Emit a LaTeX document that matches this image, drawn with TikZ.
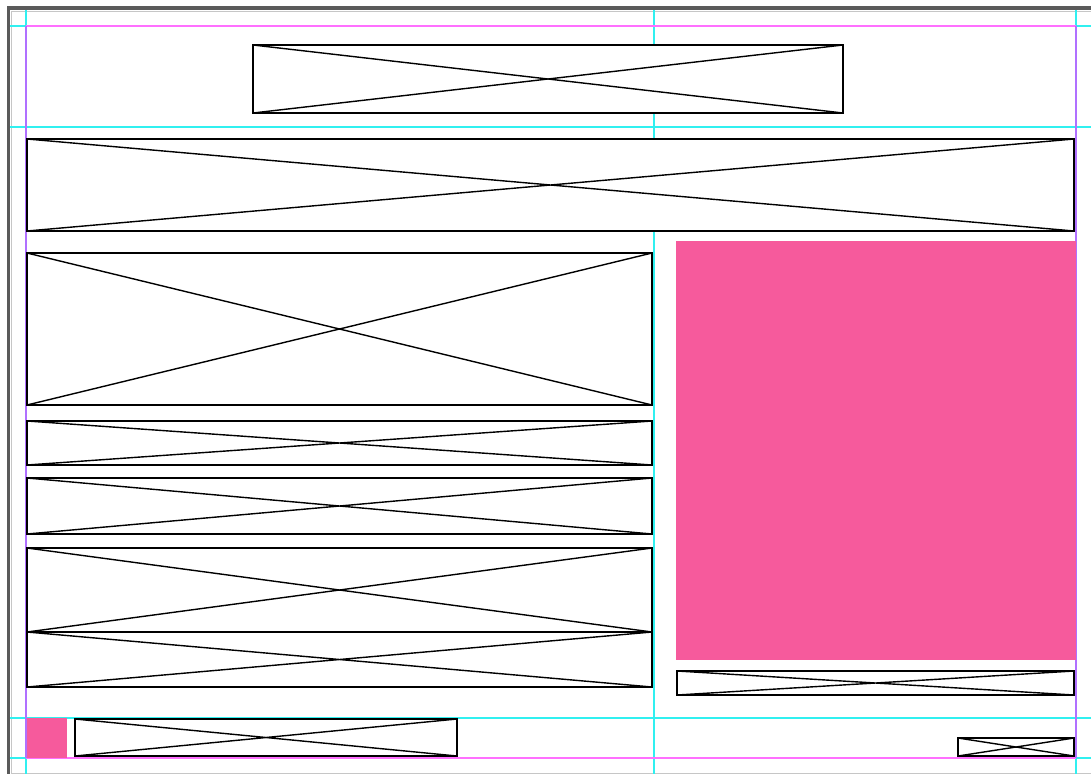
\documentclass[tikz,border=0pt]{standalone}
\usetikzlibrary{fit}
\definecolor{guidecyan}{HTML}{30F0F0}
\definecolor{marginpink}{HTML}{FF70FF}
\definecolor{colviolet}{HTML}{B070FF}
\definecolor{hotpink}{HTML}{F65A9C}
\definecolor{framegray}{HTML}{5A5A5A}
\tikzset{
  xbox/.style={draw=black, line width=2.4pt, inner sep=0pt, fill=white,
    path picture={\draw[line width=1.4pt]
      (path picture bounding box.north west) -- (path picture bounding box.south east)
      (path picture bounding box.south west) -- (path picture bounding box.north east);}},
  pinkbox/.style={fill=hotpink, draw=none, inner sep=0pt},
  cyanguide/.style={draw=guidecyan, line width=1.2pt},
  hmargin/.style={draw=marginpink, line width=1.2pt},
  vmargin/.style={draw=colviolet, line width=1.2pt},
}
\begin{document}
\begin{tikzpicture}[x=1pt,y=-1pt]
\useasboundingbox (0,0) rectangle (1091,774);
\fill[white] (0,0) rectangle (1091,774);
% page frame
\fill[framegray] (7,6) rectangle (1091,10);
\fill[framegray] (7,6) rectangle (10,774);
\draw[gray!45, line width=0.8pt] (11,11) -- (1091,11);
\draw[gray!45, line width=0.8pt] (11,11) -- (11,774);
\draw[gray!45, line width=0.8pt] (11,773.5) -- (1091,773.5);
% ruler guides
\draw[cyanguide] (26,10) -- (26,774);
\draw[cyanguide, line width=1.6pt] (654,10) -- (654,774);
\draw[cyanguide] (1076,10) -- (1076,774);
\draw[cyanguide] (10,26) -- (1091,26);
\draw[cyanguide] (10,127) -- (1091,127);
\draw[cyanguide] (10,718) -- (1091,718);
\draw[cyanguide] (10,758) -- (1091,758);
% margins
\draw[hmargin] (26,26) -- (1076,26);
\draw[hmargin] (26,758) -- (1076,758);
\draw[vmargin] (26,26) -- (26,758);
\draw[vmargin] (1076,26) -- (1076,758);
% placeholders
\node[pinkbox, fit={(676,241) (1076,660)}] (hero) {};
\node[pinkbox, fit={(27,718) (67,758)}] (logo) {};
\node[xbox, fit={(253,45) (843,113)}] (title) {};
\node[xbox, fit={(27,139) (1074,231)}] (banner) {};
\node[xbox, fit={(27,253) (652,405)}] (img) {};
\node[xbox, fit={(27,421) (652,465)}] (r1) {};
\node[xbox, fit={(27,478) (652,534)}] (r2) {};
\node[xbox, fit={(27,548) (652,632)}] (r3) {};
\node[xbox, fit={(27,632) (652,687)}] (r4) {};
\node[xbox, fit={(677,671) (1074,695)}] (caption) {};
\node[xbox, fit={(75,719) (457,756)}] (footer) {};
\node[xbox, fit={(958,738) (1074,756)}] (pagenum) {};
\end{tikzpicture}
\end{document}
